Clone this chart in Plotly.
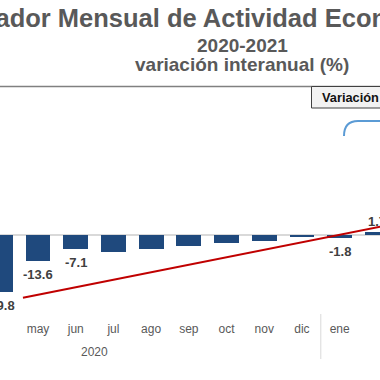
import plotly.graph_objects as go

# ---- data ----
months = ["abr", "may", "jun", "jul", "ago", "sep", "oct", "nov", "dic", "ene", "feb"]
values = [-29.8, -13.6, -7.1, -8.6, -7.3, -5.6, -4.3, -3.1, -0.9, -1.8, 1.7]
labels = ["-29.8", "-13.6", "-7.1", "", "", "", "", "", "", "-1.8", "1.7"]
trend_x = [0.6, 10.5]
trend_y = [-32.7, 6.0]
year_label = "2020"
year_center = 2.5
year_split = 8.5

W, H = 380, 380
FONT = "Liberation Sans, Arial, sans-serif"
GRAY = "#595959"

def py(p):  # pixel-from-top -> paper y
    return (H - p) / H

def px(p):
    return p / W

x_idx = list(range(len(months)))

fig = go.Figure()
fig.add_trace(go.Bar(
    x=x_idx, y=values, width=0.66,
    marker=dict(color="#1f497d", line=dict(width=0)),
    showlegend=False, hoverinfo="skip",
))
fig.add_trace(go.Scatter(
    x=trend_x, y=trend_y, mode="lines",
    line=dict(color="#c00000", width=2), showlegend=False, hoverinfo="skip",
))

y_top_px, y_bot_px, zero_px, scale = 100, 320, 235, 1.92
fig.update_layout(
    width=W, height=H,
    margin=dict(l=0, r=0, t=0, b=0, autoexpand=False),
    paper_bgcolor="white", plot_bgcolor="white",
    bargap=0,
    xaxis=dict(
        range=[-0.008, 10.07],
        tickmode="array", tickvals=x_idx, ticktext=months,
        tickfont=dict(family=FONT, size=12, color=GRAY),
        showgrid=False, zeroline=False, showline=False, ticks="",
        automargin=False,
    ),
    yaxis=dict(
        domain=[py(y_bot_px), py(y_top_px)],
        range=[-(y_bot_px - zero_px) / scale, (zero_px - y_top_px) / scale],
        showgrid=False, showticklabels=False, ticks="", automargin=False,
        zeroline=True, zerolinecolor="#d9d9d9", zerolinewidth=1.5,
    ),
)

annotations = [
    dict(text="Indicador Mensual de Actividad Económica", x=px(-66), y=py(18),
         xanchor="left", yanchor="middle",
         font=dict(family=FONT, size=25.5, color=GRAY, weight="bold")),
    dict(text="2020-2021", x=px(242), y=py(45), xanchor="center", yanchor="middle",
         font=dict(family=FONT, size=19, color=GRAY, weight="bold")),
    dict(text="variación interanual (%)", x=px(242), y=py(65), xanchor="center", yanchor="middle",
         font=dict(family=FONT, size=19, color=GRAY, weight="bold")),
    dict(text="Variación", x=1, y=py(97), xanchor="right", yanchor="middle", borderpad=0,
         font=dict(family=FONT, size=12.8, color="#111111", weight="bold")),
    dict(text=year_label, x=year_center, xref="x", y=py(352), yanchor="middle",
         xanchor="center", font=dict(family=FONT, size=12, color=GRAY)),
]
for a in annotations:
    a.setdefault("xref", "paper")
    a["yref"] = "paper"
    a["showarrow"] = False

# value labels attached to the bars
for xi, v, lab in zip(x_idx, values, labels):
    if not lab:
        continue
    annotations.append(dict(
        text=lab, x=xi, y=v, xref="x", yref="y", showarrow=False,
        xanchor="center", yanchor="middle", yshift=(10 if v > 0 else -13.5),
        font=dict(family=FONT, size=13, color="#404040", weight="bold"),
    ))
fig.update_layout(annotations=annotations)

shapes = [
    dict(type="line", xref="paper", yref="paper", x0=0, x1=1, y0=py(86.5), y1=py(86.5),
         line=dict(color="#808080", width=1.5)),
    dict(type="rect", xref="paper", yref="paper", x0=px(311.5), x1=px(395), y0=py(108), y1=py(86.5),
         fillcolor="#f2f2f2", line=dict(color="#404040", width=1)),
    dict(type="path", xref="paper", yref="paper",
         path=f"M {px(344)},{py(136)} Q {px(344)},{py(121)} {px(358)},{py(121)} L {px(390)},{py(121)}",
         line=dict(color="#5b9bd5", width=2)),
    dict(type="line", xref="x", yref="paper", x0=year_split, x1=year_split, y0=py(314), y1=py(359),
         line=dict(color="#d9d9d9", width=1)),
]
fig.update_layout(shapes=shapes)

fig.write_html("out.html", config={"displayModeBar": False},
               post_script="document.body.style.margin='0';")
